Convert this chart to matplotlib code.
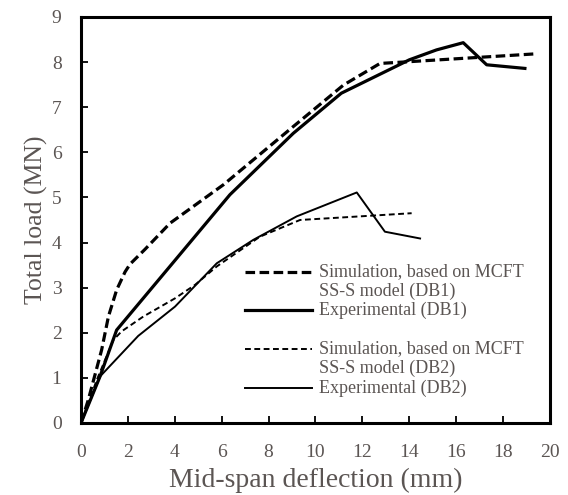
import matplotlib.pyplot as plt
from matplotlib.lines import Line2D

# ---- data ----
db1_sim_x = [0.0, 0.31, 0.88, 1.17, 1.52, 1.88, 2.09, 2.4, 2.73, 3.8, 6.07, 9.05, 11.19, 12.75, 14.03, 16.2, 19.3]
db1_sim_y = [0.0, 0.51, 1.62, 2.36, 2.95, 3.35, 3.52, 3.68, 3.85, 4.43, 5.28, 6.57, 7.49, 7.97, 8.01, 8.08, 8.18]

db1_exp_x = [0.0, 0.81, 1.52, 6.35, 9.05, 11.1, 14.0, 15.16, 16.3, 17.3, 18.93]
db1_exp_y = [0.0, 1.03, 2.06, 5.06, 6.42, 7.31, 8.05, 8.27, 8.43, 7.94, 7.86]

db2_sim_x = [0.0, 0.67, 1.38, 1.73, 2.66, 4.0, 4.86, 5.79, 7.63, 9.34, 11.9, 14.1]
db2_sim_y = [0.0, 0.95, 1.84, 2.03, 2.36, 2.76, 3.06, 3.47, 4.13, 4.50, 4.58, 4.65]

db2_exp_x = [0.0, 0.81, 2.44, 4.01, 5.79, 7.35, 9.2, 11.76, 12.96, 14.46]
db2_exp_y = [0.0, 1.03, 1.93, 2.58, 3.54, 4.06, 4.58, 5.11, 4.24, 4.09]

labels = [['Simulation, based on MCFT', 'SS-S model (DB1)'], ['Experimental (DB1)'],
          ['Simulation, based on MCFT', 'SS-S model (DB2)'], ['Experimental (DB2)']]

txt_col = '#5b5553'
plt.rcParams['font.family'] = ['Liberation Serif', 'DejaVu Serif']

fig = plt.figure(figsize=(5.68, 4.95), dpi=100)
ax = fig.add_axes([0.1426, 0.1455, 0.8257, 0.8202])

thick = dict(color='black', lw=2.3)
thin = dict(color='black', lw=1.4)
styles = [
    dict(thick, dashes=[3.0, 1.4]),
    dict(thick),
    dict(thin, dashes=[3.0, 1.8]),
    dict(thin),
]

ax.plot(db1_sim_x, db1_sim_y, **styles[0])
ax.plot(db1_exp_x, db1_exp_y, **styles[1])
ax.plot(db2_sim_x, db2_sim_y, **styles[2])
ax.plot(db2_exp_x, db2_exp_y, **styles[3])

ax.set_xlim(0, 20)
ax.set_ylim(0, 9)
ax.set_xticks(range(0, 21, 2))
ax.set_yticks(range(0, 10))
ax.tick_params(direction='in', length=5, width=1.3, labelsize=14, labelcolor=txt_col)
ax.tick_params(axis='x', pad=15)
ax.tick_params(axis='y', pad=14)
for s in ax.spines.values():
    s.set_linewidth(2.2)

ax.set_xlabel('Mid-span deflection (mm)', fontsize=20, color=txt_col, labelpad=5)
ax.set_ylabel('Total load (MN)', fontsize=18.5, color=txt_col, labelpad=3)

# hand-placed legend: handle sits on the first text line of each entry
hx0, hx1, tx = 0.350, 0.4925, 0.5075
line_gap = 0.047
entries = [(0.372, 0), (0.278, 1), (0.182, 2), (0.086, 3)]
for y, i in entries:
    ax.add_line(Line2D([hx0, hx1], [y, y], transform=ax.transAxes, **styles[i]))
    for k, part in enumerate(labels[i]):
        ax.text(tx, y - k * line_gap, part, transform=ax.transAxes, fontsize=13,
                color=txt_col, va='center')

fig.savefig('out.png', dpi=100)
